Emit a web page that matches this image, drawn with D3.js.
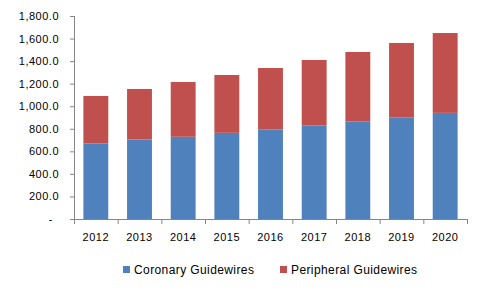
<!DOCTYPE html>
<html>
<head>
<meta charset="utf-8">
<script src="https://cdn.jsdelivr.net/npm/d3@7"></script>
<style>
  body { margin: 0; background: #fff; }
  text { font-family: "Liberation Sans", Arial, sans-serif; fill: #000; }
</style>
</head>
<body>
<div id="chartArea"></div>
<script>
var years = ["2012", "2013", "2014", "2015", "2016", "2017", "2018", "2019", "2020"];
var coronary = [669, 705, 729, 764, 793, 829, 864, 899, 941];
var peripheral = [422, 448, 486, 513, 546, 581, 617, 662, 708];
var seriesNames = ["Coronary Guidewires", "Peripheral Guidewires"];
var seriesColors = ["#4F81BD", "#C0504D"];
var yTicks = [0, 200, 400, 600, 800, 1000, 1200, 1400, 1600, 1800];

var margin = { top: 16, right: 17, bottom: 73, left: 74 },
  width = 484 - margin.left - margin.right,
  height = 292 - margin.top - margin.bottom;

var data = years.map(function (y, i) {
  return { year: y, coronary: coronary[i], peripheral: peripheral[i] };
});

var stack = d3.stack().keys(["coronary", "peripheral"]);
var layers = stack(data);

var x = d3.scaleBand()
  .domain(years)
  .range([0, width])
  .paddingInner(0.43)
  .paddingOuter(0.215);

// plain band scale for the tick marks between categories
var xEdges = d3.scaleBand().domain(years).range([0, width]);

var y = d3.scaleLinear()
  .domain([0, 1800])
  .range([height, 0]);

var fmt = d3.format(",.1f");

var svg = d3.select("#chartArea").append("svg")
  .attr("width", 484)
  .attr("height", 292)
  .append("g")
  .attr("transform", "translate(" + margin.left + "," + margin.top + ")");

svg.selectAll(".layer")
  .data(layers)
  .enter().append("g")
  .attr("class", "layer")
  .style("fill", function (d, i) { return seriesColors[i]; })
  .selectAll("rect")
  .data(function (d) { return d; })
  .enter().append("rect")
  .attr("x", function (d) { return x(d.data.year); })
  .attr("width", x.bandwidth())
  .attr("y", function (d) { return y(d[1]); })
  .attr("height", function (d) { return y(d[0]) - y(d[1]); });

// y axis
var yAxis = d3.axisLeft(y)
  .tickValues(yTicks)
  .tickSize(4)
  .tickPadding(11)
  .tickFormat(function (d) { return d === 0 ? "-" : fmt(d); });

var gy = svg.append("g")
  .attr("class", "y axis")
  .call(yAxis);
gy.select(".domain").attr("stroke", "#868686").attr("d", "M0.5,0V" + (height + 0.5));
gy.selectAll(".tick line").attr("stroke", "#868686");
gy.selectAll(".tick text")
  .style("font-size", "11px")
  .style("letter-spacing", "0.5px")
  .attr("dx", function (d) { return d === 0 ? "-6" : "0"; });

// x axis
var gx = svg.append("g")
  .attr("class", "x axis")
  .attr("transform", "translate(0," + height + ")");
gx.append("path")
  .attr("stroke", "#868686")
  .attr("fill", "none")
  .attr("d", "M0," + 0.5 + "H" + width);
gx.selectAll(".edge")
  .data(years.concat(["end"]))
  .enter().append("line")
  .attr("stroke", "#868686")
  .attr("x1", function (d, i) { return (i < years.length ? xEdges(d) : width) + 0.5; })
  .attr("x2", function (d, i) { return (i < years.length ? xEdges(d) : width) + 0.5; })
  .attr("y1", 0)
  .attr("y2", 5);
gx.selectAll(".lbl")
  .data(years)
  .enter().append("text")
  .attr("x", function (d) { return x(d) + x.bandwidth() / 2; })
  .attr("y", 22)
  .style("text-anchor", "middle")
  .style("font-size", "11px")
  .style("letter-spacing", "0.5px")
  .text(function (d) { return d; });

// legend
var legend = d3.select("svg").append("g")
  .attr("transform", "translate(123,264)");
var legX = [0, 157];
seriesNames.forEach(function (name, i) {
  var g = legend.append("g").attr("transform", "translate(" + legX[i] + ",0)");
  g.append("rect")
    .attr("width", 7)
    .attr("height", 7)
    .attr("y", 2)
    .style("fill", seriesColors[i]);
  g.append("text")
    .attr("x", 11)
    .attr("y", 10)
    .style("font-size", "12px")
    .style("letter-spacing", "0.4px")
    .text(name);
});
</script>
</body>
</html>
